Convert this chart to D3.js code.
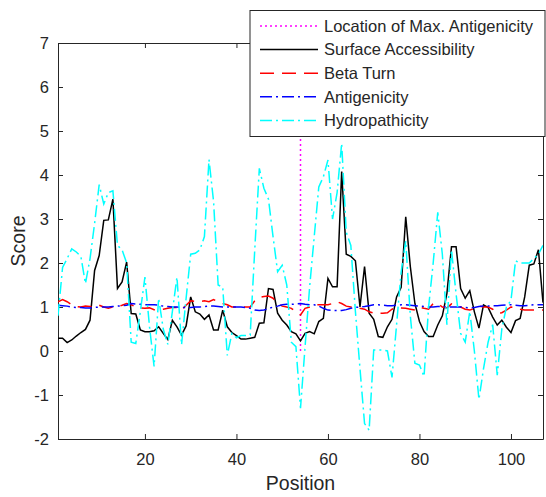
<!DOCTYPE html>
<html>
<head>
<meta charset="utf-8">
<script src="https://cdn.jsdelivr.net/npm/d3@7"></script>
<style>
body{margin:0;background:#fff}
text{font-family:"Liberation Sans",Arial,sans-serif;fill:#262626}
</style>
</head>
<body>
<div id="chart"></div>
<script>
// values, one per position (1..107)
var surface = [0.29,0.29,0.19,0.25,0.34,0.42,0.49,0.70,1.83,2.17,
    2.97,2.98,3.45,1.42,1.57,2.02,0.85,0.84,0.48,0.44,
    0.44,0.46,0.55,0.40,0.26,0.70,0.55,0.36,0.57,1.23,
    0.89,0.84,0.72,0.82,0.48,0.48,0.93,0.55,0.42,0.35,
    0.27,0.27,0.29,0.31,0.63,0.64,1.42,1.40,0.86,0.70,
    0.59,0.44,0.39,0.23,0.40,0.44,0.39,0.67,0.74,1.65,
    1.46,1.46,4.08,2.20,2.15,2.05,1.00,1.92,0.86,0.72,
    0.33,0.31,0.55,0.72,1.23,1.45,3.05,1.92,1.08,0.67,
    0.44,0.33,0.33,0.59,0.80,1.31,2.37,2.37,1.42,1.20,
    1.37,0.89,0.52,1.05,0.99,0.77,0.59,0.70,0.54,0.42,
    0.69,0.74,1.23,1.95,1.98,2.30,1.10]

var betaTurn = [1.12,1.17,1.12,1.05,1.01,1.00,1.02,1.01,1.00,1.04,
    1.00,0.97,1.00,1.01,1.04,1.08,1.05,1.00,0.98,0.97,
    0.98,0.94,0.94,0.95,0.97,0.99,0.99,0.93,1.04,1.14,
    1.13,1.12,1.14,1.12,1.17,1.12,1.08,1.05,1.00,1.00,
    1.00,1.00,1.00,1.14,1.22,1.24,1.25,1.20,1.08,1.02,
    1.00,0.97,0.89,0.82,0.97,1.00,1.05,1.05,1.05,1.05,
    1.08,1.12,1.08,1.02,1.00,1.00,0.97,0.95,0.89,0.86,
    0.86,0.86,0.87,0.95,0.99,0.98,0.97,0.95,0.93,1.00,
    0.97,0.95,1.08,1.08,1.00,0.98,1.07,1.03,1.00,0.95,
    0.93,0.97,1.02,1.00,1.00,0.95,0.86,0.87,0.93,1.00,
    0.99,0.95,0.93,0.93,0.93,0.93,0.93]

var antigenicity = [1.04,1.03,1.02,1.00,0.99,0.99,0.98,0.98,0.99,1.00,
    1.00,1.00,1.01,1.02,1.03,1.04,1.08,1.07,1.06,1.05,
    1.05,1.05,1.04,1.02,1.01,1.00,1.00,0.99,0.99,0.99,
    1.00,1.00,1.01,1.02,1.02,1.01,1.00,1.00,1.00,1.00,
    1.00,0.99,0.97,0.93,0.92,0.93,0.96,1.00,1.02,1.05,
    1.06,1.06,1.07,1.08,1.06,1.05,1.05,1.02,0.97,0.93,
    0.92,0.92,0.92,0.94,0.97,0.99,1.00,1.01,1.03,1.05,
    1.05,1.04,1.03,1.03,1.04,1.05,1.05,1.04,1.03,1.02,
    1.01,1.00,1.00,1.01,1.01,1.00,1.00,1.00,1.00,0.99,
    0.98,0.99,1.01,1.02,1.02,1.03,1.03,1.04,1.05,1.05,
    1.04,1.03,1.03,1.04,1.05,1.05,1.05]

var hydropathicity = [0.80,1.90,2.10,2.32,2.25,2.15,1.53,2.10,2.90,3.78,
    3.34,3.60,3.64,2.40,2.30,2.00,0.20,0.17,0.90,1.68,
    0.55,-0.35,1.20,0.50,0.15,0.90,1.68,0.14,1.20,2.20,
    2.22,2.30,2.60,4.35,3.40,1.50,1.45,-0.10,0.40,0.30,
    0.35,0.35,0.36,2.30,4.15,3.70,3.45,2.60,1.80,1.95,
    1.50,0.20,0.10,-1.30,0.10,1.46,2.60,3.73,3.96,4.34,
    3.00,3.60,4.72,2.70,2.40,0.90,-0.40,-1.65,-1.80,0.02,
    0.02,0.02,0.00,-0.60,0.60,1.80,2.50,0.80,-0.28,-0.32,
    -0.58,1.00,2.00,3.15,2.20,0.60,2.30,1.30,0.40,0.20,
    0.90,0.00,-1.10,-0.40,0.20,0.60,-0.55,0.50,1.00,1.15,
    2.05,2.00,2.00,2.00,2.10,2.20,2.40]

var maxAntigenicityPos = 54
var xTicks = [20,40,60,80,100]
var yTicks = [-2,-1,0,1,2,3,4,5,6,7]
var legendNames = ["Location of Max. Antigenicity","Surface Accessibility","Beta Turn","Antigenicity","Hydropathicity"]

var w = 546, h = 497
var padL = 58, padR = 543, padT = 43, padB = 439
var dark = "#262626"

var svg = d3.select("#chart").append("svg")
    .attr("width",w)
    .attr("height",h)

var x = d3.scaleLinear().domain([1,surface.length]).range([padL,padR])
var y = d3.scaleLinear().domain([-2,7]).range([padB,padT])

svg.append("defs").append("clipPath").attr("id","plot")
    .append("rect").attr("x",padL).attr("y",padT)
    .attr("width",padR-padL).attr("height",padB-padT)

// axes, ticks pointing inwards on all four sides
function styleAxis(g){
    g.select(".domain").attr("stroke",dark)
    g.selectAll(".tick line").attr("stroke",dark)
    g.selectAll("text").attr("fill",dark).style("font-size","16.5px")
}
// plain hyphen for negatives, like the original
var plain = function(d){return String(d)}

svg.append("g").attr("transform","translate(0,"+padB+")")
    .call(d3.axisBottom(x).tickValues(xTicks).tickSize(-5).tickPadding(14).tickSizeOuter(0).tickFormat(plain))
    .call(styleAxis)
svg.append("g").attr("transform","translate(0,"+padT+")")
    .call(d3.axisTop(x).tickValues(xTicks).tickSize(-5).tickFormat("").tickSizeOuter(0))
    .call(styleAxis)
svg.append("g").attr("transform","translate("+padL+",0)")
    .call(d3.axisLeft(y).tickValues(yTicks).tickSize(-5).tickPadding(9).tickSizeOuter(0).tickFormat(plain))
    .call(styleAxis)
svg.append("g").attr("transform","translate("+padR+",0)")
    .call(d3.axisRight(y).tickValues(yTicks).tickSize(-5).tickFormat("").tickSizeOuter(0))
    .call(styleAxis)

svg.append("text").text("Position")
    .attr("x",(padL+padR)/2).attr("y",490)
    .attr("text-anchor","middle").style("font-size","19.5px")
svg.append("text").text("Score")
    .attr("transform","translate(25,"+((padT+padB)/2)+") rotate(-90)")
    .attr("text-anchor","middle").style("font-size","19.5px")

var series = [
    {name:legendNames[1], data:surface, color:"#000000", dash:null},
    {name:legendNames[2], data:betaTurn, color:"#ff0000", dash:"14,8"},
    {name:legendNames[3], data:antigenicity, color:"#0000ff", dash:"12,4,2,4"},
    {name:legendNames[4], data:hydropathicity, color:"#00ffff", dash:"12,4,2,4"}
]

var line = d3.line()
    .x(function(d,i){return x(i+1)})
    .y(function(d){return y(d)})

var plot = svg.append("g").attr("clip-path","url(#plot)")

plot.append("line")
    .attr("x1",x(maxAntigenicityPos)).attr("x2",x(maxAntigenicityPos))
    .attr("y1",y(0)).attr("y2",y(7))
    .attr("stroke","#ff00ff").attr("stroke-width",1.5)
    .attr("stroke-dasharray","2,3")

plot.selectAll(".series")
    .data(series)
    .join("path")
    .attr("class","series")
    .attr("d",function(d){return line(d.data)})
    .attr("fill","none")
    .attr("stroke",function(d){return d.color})
    .attr("stroke-width",1.5)
    .attr("stroke-dasharray",function(d){return d.dash})

// legend
var legend = svg.append("g")
legend.append("rect")
    .attr("x",250).attr("y",10.5).attr("width",295).attr("height",126)
    .attr("fill","#fff").attr("stroke",dark)

var legendItems = [{color:"#ff00ff", dash:"2,3"}].concat(series)
legendItems.forEach(function(d,i){
    var ly = 26 + i*23.6
    legend.append("line")
        .attr("x1",260).attr("x2",318).attr("y1",ly).attr("y2",ly)
        .attr("stroke",d.color).attr("stroke-width",1.5)
        .attr("stroke-dasharray",d.dash)
    legend.append("text").text(legendNames[i])
        .attr("x",324).attr("y",ly).attr("dy","0.35em")
        .style("font-size","16.5px")
})
</script>
</body>
</html>
